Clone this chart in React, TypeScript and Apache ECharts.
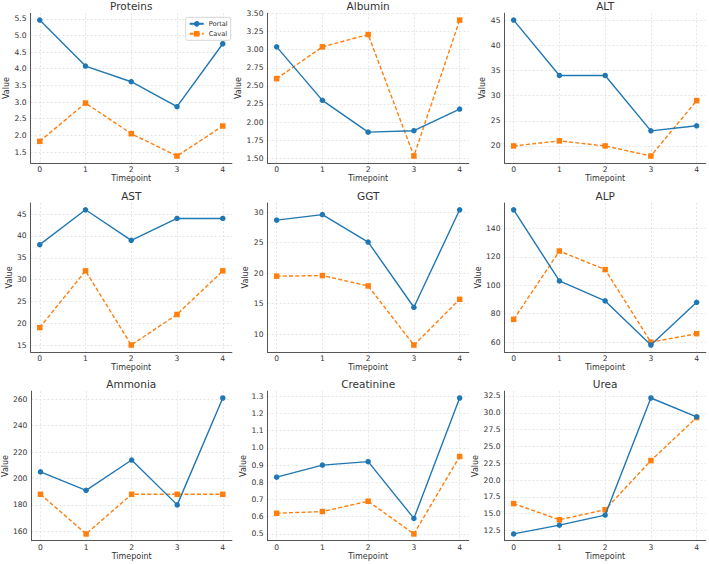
import React, { useEffect, useRef } from "react";
import * as echarts from "echarts";

// Sampling timepoints shared by every panel
const timepoints = [0, 1, 2, 3, 4];

// Measured values per analyte: portal vein vs caval vein
const proteinsPortal = [5.46, 4.08, 3.61, 2.86, 4.75];
const proteinsCaval = [1.82, 2.97, 2.05, 1.38, 2.28];

const albuminPortal = [3.04, 2.3, 1.86, 1.88, 2.18];
const albuminCaval = [2.6, 3.04, 3.21, 1.53, 3.41];

const altPortal = [45, 34, 34, 23, 24];
const altCaval = [20, 21, 20, 18, 29];

const astPortal = [38, 46, 39, 44, 44];
const astCaval = [19, 32, 15, 22, 32];

const ggtPortal = [28.7, 29.6, 25.1, 14.4, 30.4];
const ggtCaval = [19.5, 19.6, 17.9, 8.2, 15.7];

const alpPortal = [153, 103, 89, 58, 88];
const alpCaval = [76, 124, 111, 60, 66];

const ammoniaPortal = [205, 191, 214, 180, 261];
const ammoniaCaval = [188, 158, 188, 188, 188];

const creatininePortal = [0.83, 0.9, 0.92, 0.59, 1.29];
const creatinineCaval = [0.62, 0.63, 0.69, 0.5, 0.95];

const ureaPortal = [12.0, 13.3, 14.8, 32.2, 29.4];
const ureaCaval = [16.5, 14.1, 15.6, 22.9, 29.3];

const seriesNames = ["Portal", "Caval"];
const xAxisTitle = "Timepoint";
const yAxisTitle = "Value";

// Panel definitions: title, the two series, y tick step and label decimals
const panels = [
  { title: "Proteins", portal: proteinsPortal, caval: proteinsCaval, step: 0.5, decimals: 1 },
  { title: "Albumin", portal: albuminPortal, caval: albuminCaval, step: 0.25, decimals: 2 },
  { title: "ALT", portal: altPortal, caval: altCaval, step: 5, decimals: 0 },
  { title: "AST", portal: astPortal, caval: astCaval, step: 5, decimals: 0 },
  { title: "GGT", portal: ggtPortal, caval: ggtCaval, step: 5, decimals: 0 },
  { title: "ALP", portal: alpPortal, caval: alpCaval, step: 20, decimals: 0 },
  { title: "Ammonia", portal: ammoniaPortal, caval: ammoniaCaval, step: 20, decimals: 0 },
  { title: "Creatinine", portal: creatininePortal, caval: creatinineCaval, step: 0.1, decimals: 1 },
  { title: "Urea", portal: ureaPortal, caval: ureaCaval, step: 2.5, decimals: 1 },
];

// Layout (pixels)
const colLefts = [30.6, 267.5, 504.5];
const plotWidth = 201.3;
const rowTops = [13.3, 203, 391.2];
const rowHeights = [149.5, 148.8, 149.5];
const yNameGaps = [17, 23, 16, 15, 16, 20.5, 21, 18.5, 23.5];

const BLUE = "#1f77b4";
const ORANGE = "#ff7f0e";
const FONT = "DejaVu Sans";
const TEXT = "#333333";
const GRID_LINE = { color: "#e0e0e0", width: 0.8, type: [2, 2] as number[] };

export default function App() {
  const ref = useRef<HTMLDivElement | null>(null);

  useEffect(() => {
    if (!ref.current) return;
    const chart = echarts.init(ref.current, undefined, { renderer: "svg" });

    const grids: any[] = [];
    const xAxes: any[] = [];
    const yAxes: any[] = [];
    const series: any[] = [];
    const graphics: any[] = [];

    panels.forEach((p, i) => {
      const row = Math.floor(i / 3);
      const col = i % 3;
      const left = colLefts[col];
      const top = rowTops[row];
      const height = rowHeights[row];

      grids.push({ left, top, width: plotWidth, height, show: false, containLabel: false });

      const all = p.portal.concat(p.caval);
      const lo = Math.min(...all);
      const hi = Math.max(...all);
      const pad = (hi - lo) * 0.05;

      xAxes.push({
        type: "value",
        gridIndex: i,
        min: timepoints[0] - 0.2,
        max: timepoints[timepoints.length - 1] + 0.2,
        minInterval: 1,
        maxInterval: 1,
        name: xAxisTitle,
        nameLocation: "middle",
        nameGap: 11.5,
        nameTextStyle: { fontSize: 8, color: TEXT, fontFamily: FONT },
        axisLine: { show: true, onZero: false, lineStyle: { color: "#555555", width: 1 } },
        axisTick: { show: false },
        axisLabel: {
          fontSize: 7.6,
          color: TEXT,
          fontFamily: FONT,
          margin: 3,
          showMinLabel: false,
          showMaxLabel: false,
        },
        splitLine: { show: true, showMinLine: false, showMaxLine: false, lineStyle: GRID_LINE },
      });

      yAxes.push({
        type: "value",
        gridIndex: i,
        min: lo - pad,
        max: hi + pad,
        minInterval: p.step,
        maxInterval: p.step,
        name: yAxisTitle,
        nameLocation: "middle",
        nameGap: yNameGaps[i],
        nameTextStyle: { fontSize: 8, color: TEXT, fontFamily: FONT },
        axisLine: { show: true, onZero: false, lineStyle: { color: "#555555", width: 1 } },
        axisTick: { show: false },
        axisLabel: {
          fontSize: 7.6,
          color: TEXT,
          fontFamily: FONT,
          margin: 4,
          showMinLabel: false,
          showMaxLabel: false,
          formatter: (v: number) => v.toFixed(p.decimals),
        },
        splitLine: { show: true, showMinLine: false, showMaxLine: false, lineStyle: GRID_LINE },
      });

      series.push({
        type: "line",
        name: seriesNames[0],
        xAxisIndex: i,
        yAxisIndex: i,
        data: timepoints.map((t, j) => [t, p.portal[j]]),
        symbol: "circle",
        symbolSize: 5.5,
        lineStyle: { color: BLUE, width: 1.4 },
        itemStyle: { color: BLUE },
        z: 3,
      });
      series.push({
        type: "line",
        name: seriesNames[1],
        xAxisIndex: i,
        yAxisIndex: i,
        data: timepoints.map((t, j) => [t, p.caval[j]]),
        symbol: "rect",
        symbolSize: 5.5,
        lineStyle: { color: ORANGE, width: 1.4, type: [4, 2.2] },
        itemStyle: { color: ORANGE },
        z: 2,
      });

      graphics.push({
        type: "text",
        x: left + plotWidth / 2,
        y: top - 7,
        style: {
          text: p.title,
          fill: TEXT,
          font: `10.5px "${FONT}"`,
          textAlign: "center",
          textVerticalAlign: "middle",
        },
      });
    });

    chart.setOption({
      animation: false,
      textStyle: { fontFamily: FONT },
      grid: grids,
      xAxis: xAxes,
      yAxis: yAxes,
      series,
      graphic: graphics,
      legend: {
        data: seriesNames,
        orient: "vertical",
        left: 185.7,
        top: 17.3,
        padding: [3, 3, 3, 3],
        itemGap: 3,
        itemWidth: 14,
        itemHeight: 7,
        textStyle: { fontSize: 6.6, color: TEXT, fontFamily: FONT },
        borderColor: "#cccccc",
        borderWidth: 0.8,
        borderRadius: 2,
        backgroundColor: "rgba(255,255,255,0.85)",
        selectedMode: false,
      },
    });

    return () => chart.dispose();
  }, []);

  return (
    <div
      ref={ref}
      style={{ position: "absolute", left: 0, top: 0, width: 709, height: 564, background: "#ffffff" }}
    />
  );
}
